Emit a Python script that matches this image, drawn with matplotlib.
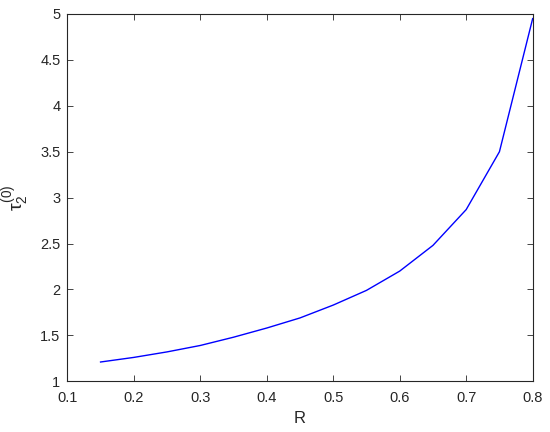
import matplotlib
matplotlib.use('Agg')
import matplotlib.pyplot as plt

# 데이터
R = [0.15, 0.2, 0.25, 0.3, 0.35, 0.4, 0.45, 0.5, 0.55, 0.6, 0.65, 0.7, 0.75, 0.8]
tau = [1.21, 1.26, 1.32, 1.39, 1.48, 1.58, 1.69, 1.83, 1.99, 2.20, 2.48, 2.87, 3.50, 4.95]

plt.rcParams['font.family'] = ['Liberation Sans', 'DejaVu Sans']
plt.rcParams['mathtext.fontset'] = 'custom'
plt.rcParams['mathtext.rm'] = 'Liberation Sans'
plt.rcParams['mathtext.it'] = 'Liberation Sans'

fig = plt.figure(figsize=(5.5, 4.32), dpi=100)
ax = fig.add_axes([0.1224, 0.1174, 0.8461, 0.8502])

ax.plot(R, tau, color='#0000ff', linewidth=1.0)

ax.set_xlim(0.1, 0.8)
ax.set_ylim(1, 5)
ax.set_xticks([0.1, 0.2, 0.3, 0.4, 0.5, 0.6, 0.7, 0.8])
ax.set_yticks([1, 1.5, 2, 2.5, 3, 3.5, 4, 4.5, 5])
ax.set_xticklabels(['0.1', '0.2', '0.3', '0.4', '0.5', '0.6', '0.7', '0.8'])
ax.set_yticklabels(['1', '1.5', '2', '2.5', '3', '3.5', '4', '4.5', '5'])

ax.tick_params(direction='in', top=True, right=True, length=4, width=0.6,
               colors='#262626', labelsize=10.5)
ax.tick_params(axis='x', pad=7)
ax.tick_params(axis='y', pad=5)
for s in ax.spines.values():
    s.set_color('#262626')
    s.set_linewidth(0.8)

ax.set_xlabel('R', fontsize=12, color='#262626', labelpad=4)
ax.set_ylabel(r'$\tau_2^{(0)}$', fontsize=14, color='#262626', labelpad=6)

fig.savefig('out.png', dpi=100)
